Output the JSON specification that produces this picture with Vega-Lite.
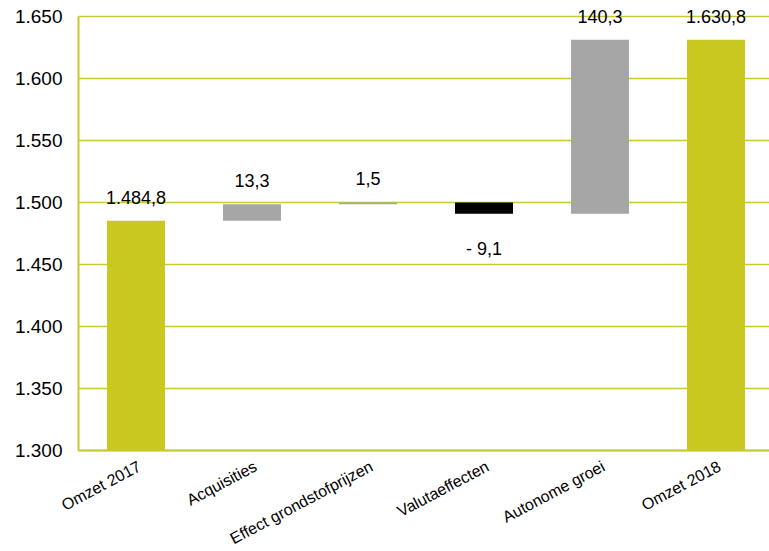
{
  "$schema": "https://vega.github.io/schema/vega-lite/v6.json",
  "width": 696,
  "height": 434,
  "autosize": "none",
  "padding": {"left": 78, "top": 16, "right": 0, "bottom": 101},
  "background": "white",
  "config": {
    "view": {"stroke": null},
    "font": "Liberation Sans",
    "locale": {"number": {"decimal": ",", "thousands": ".", "grouping": [3], "currency": ["€", ""]}}
  },
  "data": {
    "values": [
      {"cat": "Omzet 2017", "start": 0, "end": 1484.8, "kind": "total", "label": "1.484,8", "dir": "up"},
      {"cat": "Acquisities", "start": 1484.8, "end": 1498.1, "kind": "up", "label": "13,3", "dir": "up"},
      {"cat": "Effect grondstofprijzen", "start": 1498.1, "end": 1499.6, "kind": "up", "label": "1,5", "dir": "up"},
      {"cat": "Valutaeffecten", "start": 1499.6, "end": 1490.5, "kind": "down", "label": "- 9,1", "dir": "down"},
      {"cat": "Autonome groei", "start": 1490.5, "end": 1630.8, "kind": "up", "label": "140,3", "dir": "up"},
      {"cat": "Omzet 2018", "start": 0, "end": 1630.8, "kind": "total", "label": "1.630,8", "dir": "up"}
    ]
  },
  "encoding": {
    "x": {
      "field": "cat",
      "type": "nominal",
      "sort": null,
      "scale": {"paddingInner": 0.5, "paddingOuter": 0.25},
      "axis": {
        "title": null,
        "labelAngle": -28,
        "labelAlign": "right",
        "labelBaseline": "top",
        "labelPadding": 8,
        "labelFontSize": 16,
        "labelColor": "#000000",
        "labelFont": "Liberation Sans",
        "ticks": false,
        "domainColor": "#C8C832",
        "domainWidth": 2
      }
    }
  },
  "layer": [
    {
      "mark": {"type": "bar", "clip": true},
      "encoding": {
        "y": {
          "field": "start",
          "type": "quantitative",
          "scale": {"domain": [1300, 1650], "zero": false, "nice": false},
          "axis": {
            "title": null,
            "values": [1300, 1350, 1400, 1450, 1500, 1550, 1600, 1650],
            "format": ",.0f",
            "grid": true,
            "gridColor": "#C8C832",
            "gridWidth": 1.5,
            "gridOpacity": 1,
            "domainColor": "#C8C832",
            "domainWidth": 2,
            "ticks": false,
            "labelFontSize": 19,
            "labelColor": "#000000",
            "labelPadding": 16,
            "labelFont": "Liberation Sans"
          }
        },
        "y2": {"field": "end"},
        "color": {
          "field": "kind",
          "type": "nominal",
          "scale": {"domain": ["total", "up", "down"], "range": ["#C8C820", "#A6A6A6", "#000000"]},
          "legend": null
        }
      }
    },
    {
      "transform": [{"filter": "datum.dir == 'up'"}],
      "mark": {"type": "text", "fontSize": 18, "color": "#000000", "baseline": "middle", "dy": -22, "font": "Liberation Sans"},
      "encoding": {
        "y": {"field": "end", "type": "quantitative"},
        "text": {"field": "label"}
      }
    },
    {
      "transform": [{"filter": "datum.dir == 'down'"}],
      "mark": {"type": "text", "fontSize": 18, "color": "#000000", "baseline": "middle", "dy": 36, "font": "Liberation Sans"},
      "encoding": {
        "y": {"field": "end", "type": "quantitative"},
        "text": {"field": "label"}
      }
    }
  ]
}
